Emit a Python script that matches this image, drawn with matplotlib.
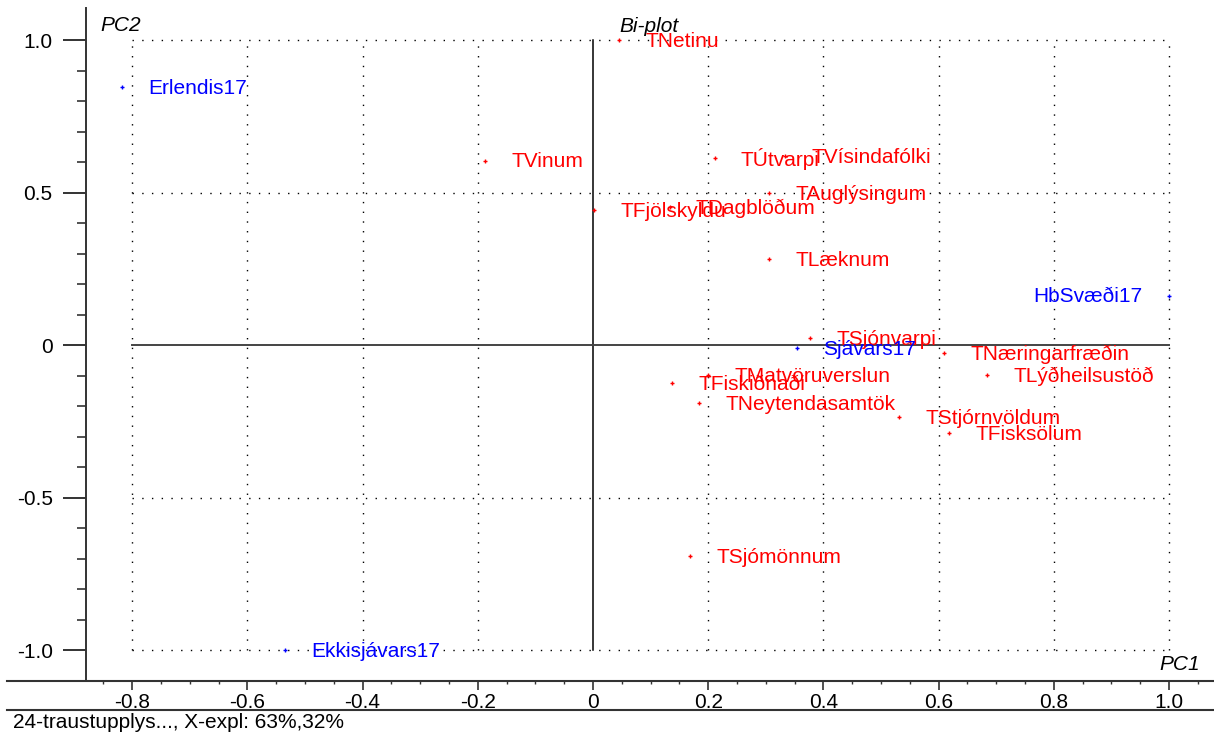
import matplotlib
matplotlib.use("Agg")
import matplotlib.pyplot as plt
from matplotlib.lines import Line2D
import numpy as np

plt.rcParams['font.family'] = ['Liberation Sans', 'DejaVu Sans']

# Variable loadings (red) and sample scores (blue) on PC1 / PC2
var_names = ["TNetinu", "TVinum", "TÚtvarpi", "TVísindafólki", "TAuglýsingum",
             "TFjölskyldu", "TDagblöðum", "TLæknum", "TSjónvarpi",
             "TNæringarfræðin", "TLýðheilsustöð", "TMatvöruverslun",
             "TFiskiðnaði", "TNeytendasamtök", "TStjórnvöldum", "TFisksölum",
             "TSjómönnum"]
var_pc1 = [0.046, -0.188, 0.211, 0.334, 0.305, 0.002, 0.133, 0.306, 0.377,
           0.610, 0.684, 0.200, 0.138, 0.184, 0.532, 0.618, 0.169]
var_pc2 = [1.000, 0.605, 0.615, 0.620, 0.500, 0.442, 0.452, 0.281, 0.024,
           -0.024, -0.097, -0.097, -0.123, -0.189, -0.236, -0.287, -0.691]

obj_names = ["Erlendis17", "HbSvæði17", "Sjávars17", "Ekkisjávars17"]
obj_pc1 = [-0.817, 1.000, 0.354, -0.535]
obj_pc2 = [0.847, 0.163, -0.008, -1.000]

x_ticks = [-0.8, -0.6, -0.4, -0.2, 0.0, 0.2, 0.4, 0.6, 0.8, 1.0]
x_tick_labels = ["-0.8", "-0.6", "-0.4", "-0.2", "0", "0.2", "0.4", "0.6", "0.8", "1.0"]
y_ticks = [-1.0, -0.5, 0.0, 0.5, 1.0]
y_tick_labels = ["-1.0", "-0.5", "0", "0.5", "1.0"]

W, H = 1214, 733
fig = plt.figure(figsize=(W / 100, H / 100), dpi=100)
ax = fig.add_axes([86 / W, (H - 681) / H, 1 - 86 / W, (681 - 8) / H])
ax.set_xlim(-0.880, 1.078)
ax.set_ylim(-1.10, 1.105)

FS = 15
axis_col = "#333333"

# dotted grid restricted to the data window
dot = (0, (1, 6))
for gx in x_ticks:
    if gx != 0.0:
        ax.plot([gx, gx], [-1.0, 1.0], color="black", lw=1.0, ls=dot, zorder=1)
for gy in y_ticks:
    if gy != 0.0:
        ax.plot([-0.8, 1.0], [gy, gy], color="black", lw=1.0, ls=dot, zorder=1)

# origin cross
ax.plot([0, 0], [-1.0, 1.0], color="black", lw=1.1, zorder=2)
ax.plot([-0.8, 1.0], [0, 0], color="#444444", lw=1.4, zorder=2)

# points
ax.plot(var_pc1, var_pc2, ls="none", marker="+", ms=3.5, mew=1.0, color="red", zorder=3)
ax.plot(obj_pc1, obj_pc2, ls="none", marker="+", ms=3.5, mew=1.0, color="blue", zorder=3)

for n, x, y in zip(var_names, var_pc1, var_pc2):
    ax.annotate(n, (x, y), xytext=(19, -1), textcoords="offset points",
                ha="left", va="center", color="red", fontsize=FS, zorder=4)
for n, x, y in zip(obj_names, obj_pc1, obj_pc2):
    if x >= 0.99:
        ax.annotate(n, (x, y), xytext=(-19, -1), textcoords="offset points",
                    ha="right", va="center", color="blue", fontsize=FS, zorder=4)
    else:
        ax.annotate(n, (x, y), xytext=(19, -1), textcoords="offset points",
                    ha="left", va="center", color="blue", fontsize=FS, zorder=4)

# axes styling
for s in ["top", "right", "bottom"]:
    ax.spines[s].set_visible(False)
ax.spines["left"].set_color(axis_col)
ax.spines["left"].set_linewidth(1.4)

ax.set_xticks(x_ticks)
ax.set_xticklabels(x_tick_labels, fontsize=FS)
ax.set_xticks(np.arange(-0.85, 1.051, 0.05), minor=True)
ax.set_yticks(y_ticks)
ax.set_yticklabels(y_tick_labels, fontsize=FS)
ax.set_yticks(np.arange(-1.0, 1.01, 0.1), minor=True)
ax.tick_params(axis="x", which="major", direction="out", length=6.5, width=1.2,
               color=axis_col, pad=2)
ax.tick_params(axis="x", which="minor", direction="out", length=2.5, width=1.0,
               color=axis_col)
ax.tick_params(axis="y", which="major", direction="out", length=16.5, width=1.4,
               color=axis_col, pad=7.5)
ax.tick_params(axis="y", which="minor", direction="out", length=6.5, width=1.2,
               color=axis_col)

# titles inside the plot area
ax.text(-0.855, 1.047, "PC2", fontsize=FS, style="italic", ha="left", va="center")
ax.text(0.046, 1.045, "Bi-plot", fontsize=FS, style="italic", ha="left", va="center")
ax.text(1.054, -1.046, "PC1", fontsize=FS, style="italic", ha="right", va="center")

# bottom axis line across the full width and the footer separator
fig.add_artist(Line2D([7 / W, 1.0], [(H - 681) / H] * 2, color=axis_col, lw=1.5))
fig.add_artist(Line2D([7 / W, 1.0], [(H - 710) / H] * 2, color=axis_col, lw=1.5))
fig.text(13 / W, (H - 722) / H, "24-traustupplys..., X-expl: 63%,32%",
         fontsize=FS, ha="left", va="center")

fig.savefig("out.png", dpi=100)
